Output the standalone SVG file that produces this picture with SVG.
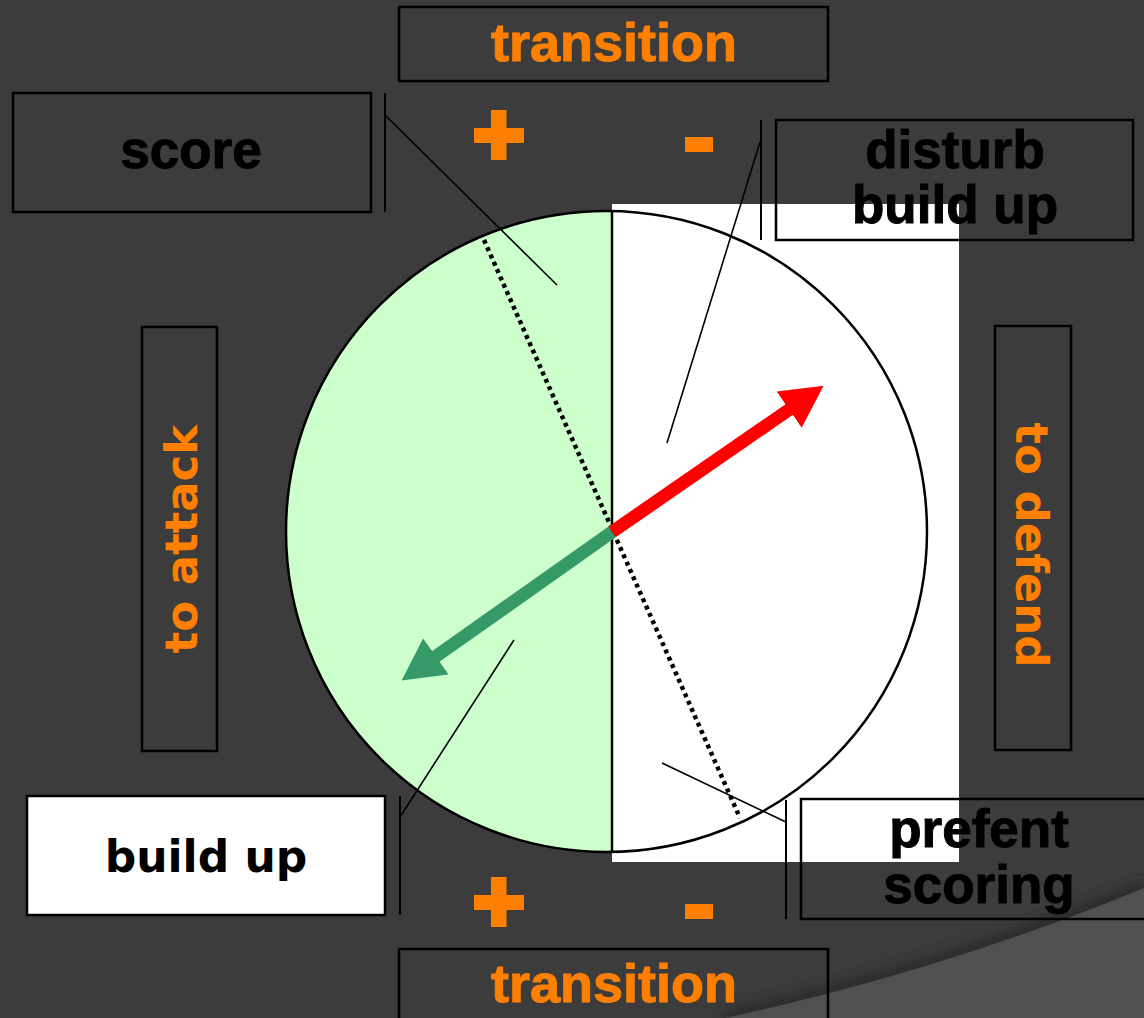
<svg xmlns="http://www.w3.org/2000/svg" width="1144" height="1018" viewBox="0 0 1144 1018">
  <style>
    .box { fill: none; stroke: #000; stroke-width: 2.5; }
    .box-white { fill: #fff; stroke: #000; stroke-width: 2.5; }
    .bracket { stroke: #000; stroke-width: 2; fill: none; }
    .leader { stroke: #000; stroke-width: 1.6; fill: none; }
    .heavy { font-family: "Liberation Sans", Arial, sans-serif; font-weight: bold; font-size: 53px; text-anchor: middle; stroke-width: 1; }
    .heavy.black { fill: #000; stroke: #000; }
    .heavy.orange { fill: #ff8000; stroke: #ff8000; font-size: 54px; }
    .wide { font-family: "DejaVu Sans", Verdana, sans-serif; font-weight: bold; text-anchor: middle; }
    .sign { fill: #ff8000; }
  </style>
  <defs>
    <marker id="head-red" markerUnits="userSpaceOnUse" markerWidth="42" markerHeight="44" viewBox="0 0 40 42" refX="1" refY="21" orient="auto">
      <path d="M0,0 L40,21 L0,42 Z" fill="#ff0000"/>
    </marker>
    <marker id="head-green" markerUnits="userSpaceOnUse" markerWidth="42" markerHeight="44" viewBox="0 0 40 42" refX="1" refY="21" orient="auto">
      <path d="M0,0 L40,21 L0,42 Z" fill="#359a68"/>
    </marker>
    <filter id="soft" x="-20%" y="-20%" width="140%" height="140%">
      <feGaussianBlur stdDeviation="6"/>
    </filter>
    <clipPath id="left-half">
      <rect x="0" y="0" width="612" height="1018"/>
    </clipPath>
  </defs>

  <!-- backdrop -->
  <rect width="1144" height="1018" fill="#3c3c3c"/>
  <path d="M725,1018 A2454,2454 0 0,0 1144,888" stroke="#2c2c2c" stroke-width="16" fill="none" filter="url(#soft)"/>
  <path d="M725,1018 A2454,2454 0 0,0 1144,888 L1144,1018 Z" fill="#505050"/>

  <!-- field: white panel, green half disc, outline, split line, dotted diagonal -->
  <g id="field">
    <rect x="612" y="204" width="347" height="658" fill="#fff"/>
    <circle cx="606.5" cy="531.5" r="320.5" fill="#ccffcc" clip-path="url(#left-half)"/>
    <circle cx="606.5" cy="531.5" r="320.5" fill="none" stroke="#000" stroke-width="2.5"/>
    <line x1="612" y1="211" x2="612" y2="852" stroke="#000" stroke-width="2.5"/>
    <line x1="484" y1="240" x2="740" y2="818" stroke="#000" stroke-width="4.5" stroke-dasharray="4 4"/>
  </g>

  <!-- connectors: brackets, leader lines and direction arrows -->
  <g id="connectors">
    <line class="bracket" x1="385" y1="93" x2="385" y2="212"/>
    <line class="bracket" x1="761" y1="120" x2="761" y2="240"/>
    <line class="bracket" x1="400" y1="796" x2="400" y2="915"/>
    <line class="bracket" x1="786" y1="800" x2="786" y2="919"/>
    <line class="leader" x1="385" y1="115" x2="557" y2="285"/>
    <line class="leader" x1="760" y1="142" x2="667" y2="443"/>
    <line class="leader" x1="400" y1="817" x2="514" y2="640"/>
    <line class="leader" x1="662" y1="763" x2="786" y2="822"/>
    <line x1="612" y1="532" x2="790" y2="409" stroke="#ff0000" stroke-width="13" marker-end="url(#head-red)"/>
    <line x1="612" y1="532" x2="435" y2="657" stroke="#359a68" stroke-width="13" marker-end="url(#head-green)"/>
  </g>

  <!-- plus / minus signs -->
  <g id="signs-top">
    <rect class="sign" x="491" y="110" width="15.5" height="50"/>
    <rect class="sign" x="474" y="128" width="50" height="15"/>
    <rect class="sign" x="685" y="137" width="28" height="15"/>
  </g>
  <g id="signs-bottom">
    <rect class="sign" x="491" y="877" width="15.5" height="50"/>
    <rect class="sign" x="474" y="895" width="50" height="15"/>
    <rect class="sign" x="685" y="904" width="28" height="15"/>
  </g>

  <g id="transition-top">
    <rect class="box" x="399" y="7" width="429" height="74"/>
    <text class="heavy orange" x="614" y="61">transition</text>
  </g>

  <g id="score">
    <rect class="box" x="13" y="93" width="358" height="119"/>
    <text class="heavy black" x="191" y="168">score</text>
  </g>

  <g id="disturb-build-up">
    <rect class="box" x="776" y="120" width="357" height="120"/>
    <text class="heavy black" x="955" y="168">disturb</text>
    <text class="heavy black" x="955" y="223">build up</text>
  </g>

  <g id="to-attack">
    <rect class="box" x="142" y="327" width="75" height="424"/>
    <text class="wide" x="197" y="539" font-size="45" fill="#ff8000" transform="rotate(-90 197 539)">to attack</text>
  </g>

  <g id="to-defend">
    <rect class="box" x="995" y="326" width="76" height="424"/>
    <text class="wide" x="1016" y="545" font-size="45" fill="#ff8000" transform="rotate(90 1016 545)">to defend</text>
  </g>

  <g id="build-up">
    <rect class="box-white" x="27" y="796" width="358" height="119"/>
    <text class="wide" x="206" y="872" font-size="44" fill="#000">build up</text>
  </g>

  <g id="prefent-scoring">
    <rect class="box" x="801" y="799" width="357" height="120"/>
    <text class="heavy black" x="979" y="847">prefent</text>
    <text class="heavy black" x="979" y="903">scoring</text>
  </g>

  <g id="transition-bottom">
    <rect class="box" x="399" y="949" width="429" height="100"/>
    <text class="heavy orange" x="614" y="1002">transition</text>
  </g>
</svg>
